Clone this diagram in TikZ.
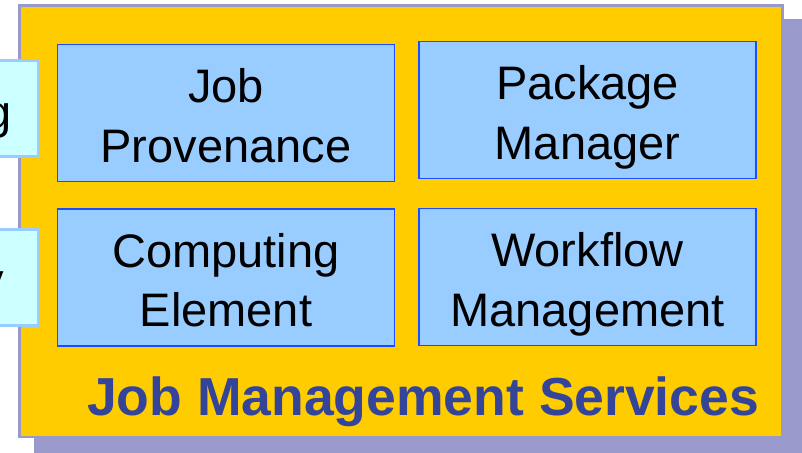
\documentclass[tikz,border=0pt]{standalone}
\usepackage{fontspec}
\setmainfont{Liberation Sans}
\definecolor{gold}{HTML}{FFCC00}
\definecolor{lav}{HTML}{9999CC}
\definecolor{svcfill}{HTML}{99CCFF}
\definecolor{svcline}{HTML}{1A4DFF}
\definecolor{sidefill}{HTML}{CCFFFF}
\definecolor{titleblue}{HTML}{334499}
\begin{document}
\begin{tikzpicture}[x=1pt,y=-1pt,
  svc/.style={draw=svcline,line width=1.5pt,fill=svcfill,minimum width=337pt,minimum height=137pt,
    inner sep=0pt,align=center,text height=98pt,text depth=0pt,font=\fontsize{47}{59.5}\selectfont},
  side/.style={draw=svcfill,line width=3pt,fill=sidefill,minimum width=50pt,minimum height=96pt},
  cut/.style={anchor=base east,inner sep=0pt,font=\fontsize{47}{59.5}\selectfont}]
\useasboundingbox (0,0) rectangle (802,452);
\fill[lav] (34,19) rectangle (805,455);
\draw[line width=2.5pt,draw=lav,fill=gold] (19.5,5.5) rectangle (782.5,437);
% boxes coming in from the left
\node[side] (logbox) at (13.5,108.5) {};
\node[side] (secbox) at (13.5,277.5) {};
\node[cut] (logtxt) at (12,128) {g};
\node[cut] (sectxt) at (4,296) {y};
% the four services
\node[svc] (prov) at (226,113) {Job\\Provenance};
\node[svc] (pkg) at (587.5,110) {Package\\Manager};
\node[svc] (ce) at (226,277.5) {Computing\\Element};
\node[svc] (wf) at (587.5,277) {Workflow\\Management};
\node[anchor=base west,inner sep=0pt,text=titleblue,font=\fontsize{53.5}{60}\selectfont\bfseries] (title) at (87,415) {Job Management Services};
\end{tikzpicture}
\end{document}
